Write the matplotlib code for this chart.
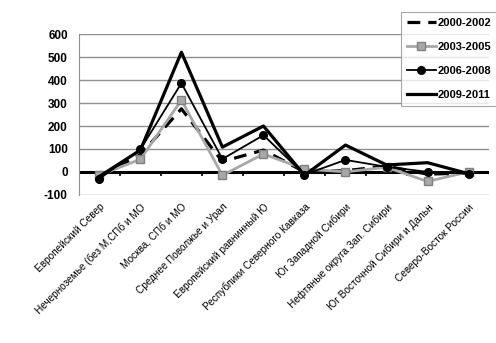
import matplotlib
matplotlib.use("Agg")
import matplotlib.pyplot as plt
from matplotlib.lines import Line2D

categories = ["Европейский Север", "Нечерноземье (без М,СПб и МО", "Москва, СПб и МО",
              "Среднее Поволжье и Урал", "Европейский равнинный Ю", "Республики Северного Кавказа",
              "Юг Западной Сибири", "Нефтяные округа Зап. Сибири", "Юг Восточной Сибири и Дальн",
              "Северо-Восток России"]
s2000 = [-20, 75, 275, 45, 95, 0, 5, 25, -10, -5]
s2003 = [-15, 55, 313, -15, 78, 12, 0, 20, -42, 0]
s2006 = [-30, 98, 387, 56, 160, -12, 52, 22, 0, -8]
s2009 = [-20, 95, 522, 108, 200, -15, 117, 30, 40, -8]
series_names = ["2000-2002", "2003-2005", "2006-2008", "2009-2011"]
yticks = [-100, 0, 100, 200, 300, 400, 500, 600]

plt.rcParams['font.family'] = ['Liberation Sans', 'DejaVu Sans']
plt.rcParams['axes.unicode_minus'] = False

fig = plt.figure(figsize=(4.96, 3.43), dpi=100)
ax = fig.add_axes([0.159, 0.4315, 0.827, 0.469])
x = list(range(len(categories)))

ax.set_ylim(-101, 601)
ax.set_xlim(-0.5, len(categories) - 0.5)
ax.set_yticks(yticks)
ax.yaxis.grid(True, color='#909090', linewidth=1)
ax.set_axisbelow(True)
for s in ['top', 'right', 'bottom']:
    ax.spines[s].set_visible(False)
ax.spines['left'].set_color('#909090')
ax.tick_params(axis='y', length=0, pad=8, labelsize=8.5)
for lbl in ax.get_yticklabels():
    lbl.set_fontweight('bold')

# zero axis
ax.axhline(0, color='black', linewidth=2.2, zorder=2)
for b in range(1, len(categories)):
    ax.plot([b - 0.5, b - 0.5], [0, -14], color='black', linewidth=1.3, zorder=2)

ax.plot(x, s2000, color='black', linewidth=2.3, dashes=(4, 2.5), zorder=3)
ax.plot(x, s2003, color='#a8a8a8', linewidth=2, marker='s', markersize=6,
        markerfacecolor='#a8a8a8', markeredgecolor='#808080', zorder=4)
ax.plot(x, s2006, color='black', linewidth=1.3, marker='o', markersize=5.5, zorder=5)
ax.plot(x, s2009, color='black', linewidth=2.3, zorder=6)

ax.set_xticks(x)
ax.set_xticklabels(categories, rotation=45, ha='right', va='top', fontsize=7.2,
                   rotation_mode='anchor')
ax.tick_params(axis='x', length=0, pad=5)

handles = [
    Line2D([], [], color='black', linewidth=2.3, dashes=(4, 2.5)),
    Line2D([], [], color='#a8a8a8', linewidth=2, marker='s', markersize=6,
           markerfacecolor='#a8a8a8', markeredgecolor='#808080'),
    Line2D([], [], color='black', linewidth=1.3, marker='o', markersize=5.5),
    Line2D([], [], color='black', linewidth=2.3),
]
leg = fig.legend(handles, series_names, loc='upper left', bbox_to_anchor=(0.808, 0.965),
                 frameon=True, fancybox=False, edgecolor='#909090', fontsize=8,
                 handlelength=2.6, labelspacing=1.25, borderpad=0.55, handletextpad=0.2,
                 borderaxespad=0)
leg.get_frame().set_linewidth(0.8)
for t in leg.get_texts():
    t.set_fontweight('bold')

fig.savefig("out.png", dpi=100)
